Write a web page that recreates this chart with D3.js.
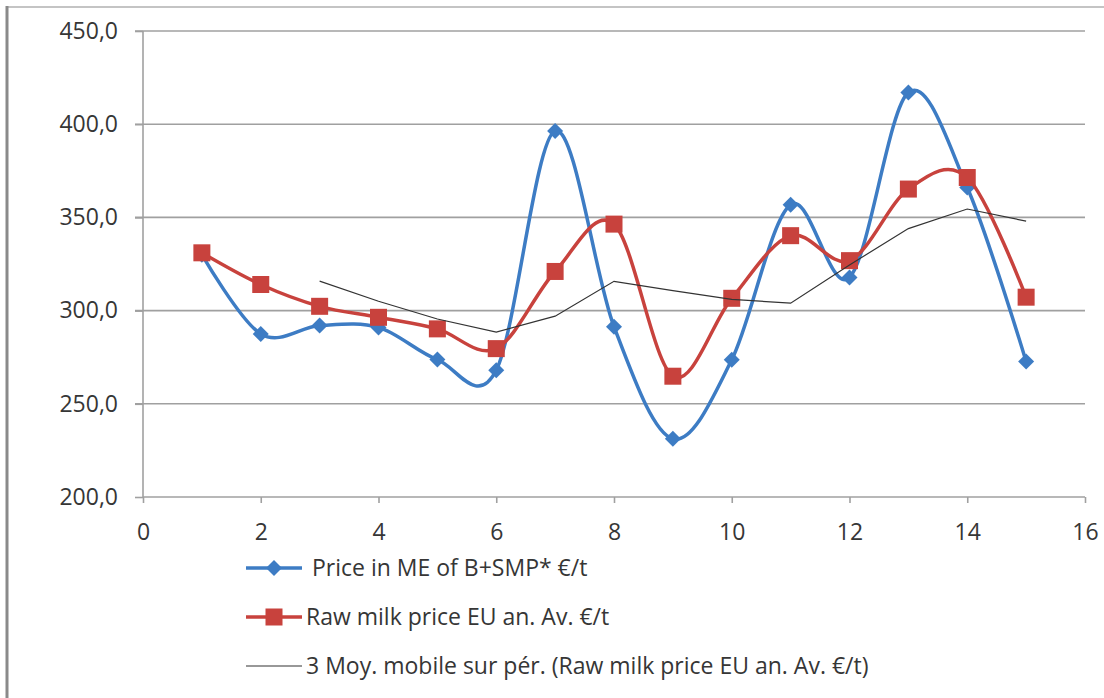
<!DOCTYPE html>
<html>
<head>
<meta charset="utf-8">
<script src="https://cdn.jsdelivr.net/npm/d3@7"></script>
<style>
  body { margin: 0; background: #fff; }
  svg { display: block; }
  text { font-family: "Open Sans", "Noto Sans", sans-serif; fill: #363636; }
</style>
</head>
<body>
<div id="chart"></div>
<script>
// data
var periods = [1, 2, 3, 4, 5, 6, 7, 8, 9, 10, 11, 12, 13, 14, 15];
var priceME = [330, 287.5, 292, 291, 273.7, 268, 396.4, 291.4, 231.2, 273.6, 356.8, 317.8, 417, 366, 272.7];
var rawMilk = [331, 314, 302.3, 296.4, 290.2, 279.6, 321, 346.4, 264.8, 306.6, 340.2, 326.8, 365.2, 371.4, 307.2];
var maPeriods = [3, 4, 5, 6, 7, 8, 9, 10, 11, 12, 13, 14, 15];
var movingAvg = [315.8, 305, 295.5, 288.5, 297, 315.7, 310.7, 306, 304, 324.5, 344, 354.5, 348];
var yTicks = [200, 250, 300, 350, 400, 450];
var xTicks = [0, 2, 4, 6, 8, 10, 12, 14, 16];
var legendLabels = [
    "Price in ME of B+SMP* \u20ac/t",
    "Raw milk price EU an. Av. \u20ac/t",
    "3 Moy. mobile sur p\u00e9r. (Raw milk price EU an. Av. \u20ac/t)"
];

var svgWidth = 1104;
var svgHeight = 698;
var margin = { top: 31, right: 19, bottom: 201, left: 143 };
var chart_width = svgWidth - margin.left - margin.right;
var chart_height = svgHeight - margin.top - margin.bottom;

var blue = "#3d7cc4";
var red = "#c8423d";
var fontSize = 23;

var svg = d3.select("#chart")
    .append("svg")
    .attr("width", svgWidth)
    .attr("height", svgHeight);

// frame
svg.append("line").attr("x1", 7).attr("x2", svgWidth).attr("y1", 7).attr("y2", 7)
    .attr("stroke", "#c4c4c4").attr("stroke-width", 2);
svg.append("line").attr("x1", 7).attr("x2", 7).attr("y1", 6).attr("y2", svgHeight)
    .attr("stroke", "#8a8a8a").attr("stroke-width", 3);

var chartGroup = svg.append("g")
    .attr("transform", `translate(${margin.left}, ${margin.top})`);

var xScale = d3.scaleLinear().domain([0, 16]).range([0, chart_width]);
var yScale = d3.scaleLinear().domain([200, 450]).range([chart_height, 0]);

// gridlines
chartGroup.append("g")
    .selectAll("line")
    .data(yTicks.slice(1))
    .enter()
    .append("line")
    .attr("x1", -8)
    .attr("x2", chart_width)
    .attr("y1", d => yScale(d))
    .attr("y2", d => yScale(d))
    .attr("stroke", "#a0a0a0")
    .attr("stroke-width", 1.6);

// axes
var leftAxis = d3.axisLeft(yScale)
    .tickValues(yTicks)
    .tickSize(8)
    .tickPadding(17)
    .tickFormat(d => d3.format(".1f")(d).replace(".", ","));
var bottomAxis = d3.axisBottom(xScale)
    .tickValues(xTicks)
    .tickSize(6)
    .tickPadding(21);

var yAxisG = chartGroup.append("g").call(leftAxis);
var xAxisG = chartGroup.append("g")
    .attr("transform", `translate(0, ${chart_height})`)
    .call(bottomAxis);

[yAxisG, xAxisG].forEach(function(g) {
    g.select(".domain").attr("stroke", "#a0a0a0").attr("stroke-width", 1.6);
    g.selectAll(".tick line").attr("stroke", "#a0a0a0").attr("stroke-width", 1.6);
    g.selectAll(".tick text")
        .attr("font-size", fontSize)
        .attr("fill", "#363636")
        .style("font-family", '"Open Sans", "Noto Sans", sans-serif');
});
yAxisG.select(".domain").attr("d", `M0,0V${chart_height}`);
xAxisG.select(".domain").attr("d", `M0,0H${chart_width}`);

// lines
var smoothLine = d3.line()
    .x(d => xScale(d[0]))
    .y(d => yScale(d[1]))
    .curve(d3.curveCatmullRom.alpha(0));
var straightLine = d3.line()
    .x(d => xScale(d[0]))
    .y(d => yScale(d[1]));

var blueData = periods.map((p, i) => [p, priceME[i]]);
var redData = periods.map((p, i) => [p, rawMilk[i]]);
var maData = maPeriods.map((p, i) => [p, movingAvg[i]]);

var diamond = "M0,-8L8,0L0,8L-8,0Z";
var sq = 17;

chartGroup.append("path")
    .attr("d", smoothLine(blueData))
    .attr("fill", "none")
    .attr("stroke", blue)
    .attr("stroke-width", 3.5);
chartGroup.selectAll(".blueMark")
    .data(blueData)
    .enter()
    .append("path")
    .attr("d", diamond)
    .attr("transform", d => `translate(${xScale(d[0])}, ${yScale(d[1])})`)
    .attr("fill", blue);

chartGroup.append("path")
    .attr("d", smoothLine(redData))
    .attr("fill", "none")
    .attr("stroke", red)
    .attr("stroke-width", 3.5);
chartGroup.selectAll(".redMark")
    .data(redData)
    .enter()
    .append("rect")
    .attr("x", d => xScale(d[0]) - sq / 2)
    .attr("y", d => yScale(d[1]) - sq / 2)
    .attr("width", sq)
    .attr("height", sq)
    .attr("fill", red);

chartGroup.append("path")
    .attr("d", straightLine(maData))
    .attr("fill", "none")
    .attr("stroke", "#333")
    .attr("stroke-width", 1.2);

// legend
var legend = svg.append("g").attr("transform", "translate(246, 568)");
var rowGap = 49;
legendLabels.forEach(function(label, i) {
    var row = legend.append("g").attr("transform", `translate(0, ${i * rowGap})`);
    var color = i === 0 ? blue : (i === 1 ? red : "#333");
    row.append("line")
        .attr("x1", 0).attr("x2", 56).attr("y1", 0).attr("y2", 0)
        .attr("stroke", color)
        .attr("stroke-width", i === 2 ? 1.2 : 3.5);
    if (i === 0) {
        row.append("path").attr("d", diamond).attr("transform", "translate(28,0)").attr("fill", blue);
    } else if (i === 1) {
        row.append("rect").attr("x", 28 - sq / 2).attr("y", -sq / 2).attr("width", sq).attr("height", sq).attr("fill", red);
    }
    row.append("text")
        .attr("x", i === 0 ? 66 : 60)
        .attr("y", 0)
        .attr("dy", "0.35em")
        .attr("font-size", fontSize)
        .text(label);
});
</script>
</body>
</html>
